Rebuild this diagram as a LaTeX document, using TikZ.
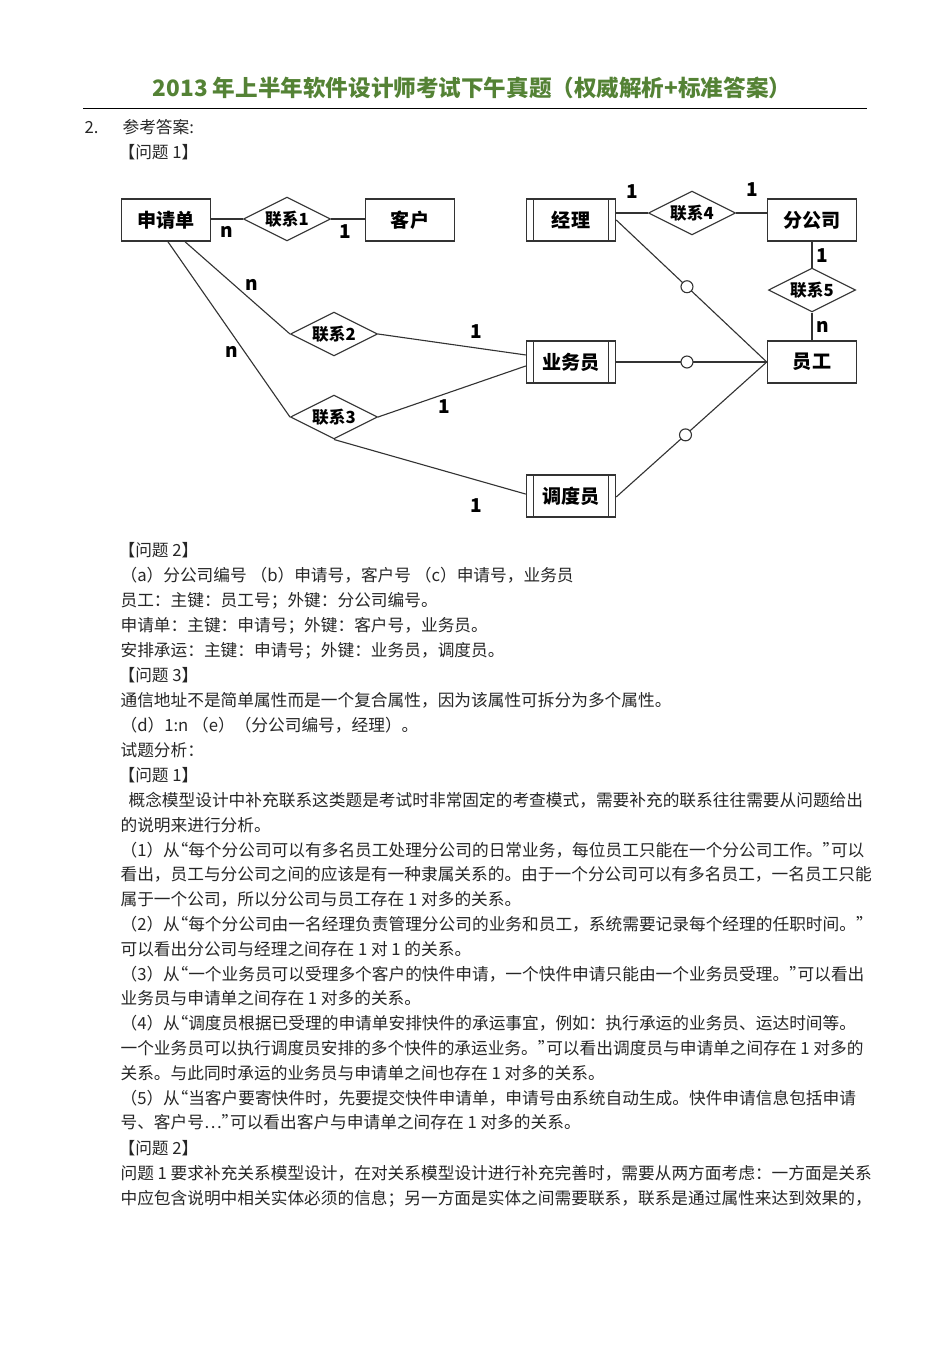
\documentclass[tikz,border=0pt]{standalone}
\usepackage{fontspec}
\setmainfont{Noto Sans CJK SC}
\usetikzlibrary{shapes.geometric}
\definecolor{titlegreen}{RGB}{84,130,53}
% 半角宽度的引号
\newcommand\openq{\makebox[0.5em][r]{“}}
\newcommand\closeq{\makebox[0.5em][l]{”}}
\tikzset{
  entity/.style={draw=black!80, line width=0.9bp, minimum width=55.8bp, minimum height=26.3bp,
    inner sep=0pt, font=\fontsize{12}{12}\selectfont\bfseries},
  weakentity/.style={entity, path picture={
      \draw[black!80, line width=0.8bp] ([xshift=4.4bp]path picture bounding box.north west) -- ([xshift=4.4bp]path picture bounding box.south west);
      \draw[black!80, line width=0.8bp] ([xshift=-4.4bp]path picture bounding box.north east) -- ([xshift=-4.4bp]path picture bounding box.south east);}},
  rel/.style={diamond, aspect=2, draw=black!80, line width=0.7bp, minimum width=54.5bp, minimum height=27.5bp,
    inner sep=0pt, font=\fontsize{10.5}{10.5}\selectfont\bfseries},
  card/.style={inner sep=0pt, font=\fontsize{12}{12}\selectfont\bfseries},
  hole/.style={circle, draw=black!80, fill=white, line width=0.7bp, minimum size=7.5bp, inner sep=0pt},
  body/.style={anchor=base west, inner sep=0pt, text=black!85, font=\fontsize{10.5}{12}\selectfont}
}
\begin{document}
\begin{tikzpicture}[x=0.6266bp, y=-0.6266bp, line width=0.7bp]
  \useasboundingbox (0,0) rectangle (950,1345);

  % 标题
  \node[text=titlegreen, font=\fontsize{14.2}{14.2}\selectfont\bfseries] (title) at (472,88)
    {2013 年上半年软件设计师考试下午真题（权威解析+标准答案）};
  \draw[line width=0.6bp] (83,108) -- (867,108);
  \node[body] (num) at (84,133) {2.};
  \node[body] (ans) at (122,133) {参考答案:};
  \node[body] (q1) at (118,158) {【问题 1】};

  % 实体
  \node[entity] (sqd) at (166,220) {申请单};
  \node[entity] (kehu) at (410,220) {客户};
  \node[weakentity] (jingli) at (571,220) {经理};
  \node[entity] (fgs) at (812,220) {分公司};
  \node[weakentity] (ywy) at (571,362) {业务员};
  \node[entity] (yg) at (812,362) {员工};
  \node[weakentity] (ddy) at (571,496) {调度员};

  % 联系
  \node[rel] (r1) at (287,219) {联系1};
  \node[rel] (r2) at (334,334) {联系2};
  \node[rel] (r3) at (334,417) {联系3};
  \node[rel] (r4) at (692,213) {联系4};
  \node[rel] (r5) at (812,290) {联系5};

  % 连线
  \draw[black!80] (sqd.east |- r1.west) -- (r1.west);
  \draw[black!80] (r1.east) -- (kehu.west |- r1.east);
  \draw[black!80] (jingli.east |- r4.west) -- (r4.west);
  \draw[black!80] (r4.east) -- (fgs.west |- r4.east);
  \draw[black!80] (fgs.south) -- (r5.north);
  \draw[black!80] (r5.south) -- (yg.north);
  \draw[black!80] ([xshift=11.9bp]sqd.south) -- (r2.west);
  \draw[black!80] ([xshift=1.2bp]sqd.south) -- (r3.west);
  \draw[black!80] (r2.east) -- ([yshift=4.4bp]ywy.west);
  \draw[black!80] (r3.east) -- ([yshift=-2.5bp]ywy.west);
  \draw[black!80] (r3.south) -- ([yshift=1.2bp]ddy.west);

  % 员工的三个子类
  \draw[black!80] (jingli.east) -- node[hole, pos=0.47] (h1) {} (yg.west);
  \draw[black!80] (ywy.east) -- node[hole, pos=0.47] (h2) {} (yg.west);
  \draw[black!80] ([yshift=-0.6bp]ddy.east) -- node[hole, pos=0.46] (h3) {} (yg.west);

  % 基数
  \node[card] (c1) at (227,232) {n};
  \node[card] (c2) at (345,232) {1};
  \node[card] (c3) at (252,285) {n};
  \node[card] (c4) at (232,352) {n};
  \node[card] (c5) at (476,332) {1};
  \node[card] (c6) at (444,407) {1};
  \node[card] (c7) at (476,506) {1};
  \node[card] (c8) at (632,192) {1};
  \node[card] (c9) at (752,190) {1};
  \node[card] (c10) at (822,256) {1};
  \node[card] (c11) at (823,327) {n};

  % 正文
  \node[body] (t0) at (118,556) {【问题 2】};
  \node[body] (t1) at (120,581) {（a）分公司编号 （b）申请号，客户号 （c）申请号，业务员};
  \node[body] (t2) at (120,606) {员工：主键：员工号；外键：分公司编号。};
  \node[body] (t3) at (120,631) {申请单：主键：申请号；外键：客户号，业务员。};
  \node[body] (t4) at (120,656) {安排承运：主键：申请号；外键：业务员，调度员。};
  \node[body] (t5) at (118,681) {【问题 3】};
  \node[body] (t6) at (120,706) {通信地址不是简单属性而是一个复合属性，因为该属性可拆分为多个属性。};
  \node[body] (t7) at (120,731) {（d）1:n （e）（分公司编号，经理）。};
  \node[body] (t8) at (120,756) {试题分析：};
  \node[body] (t9) at (118,781) {【问题 1】};
  \node[body] (t10) at (128,806) {概念模型设计中补充联系这类题是考试时非常固定的考查模式，需要补充的联系往往需要从问题给出};
  \node[body] (t11) at (120,831) {的说明来进行分析。};
  \node[body] (t12) at (120,856) {（1）从\openq 每个分公司可以有多名员工处理分公司的日常业务，每位员工只能在一个分公司工作。\closeq 可以};
  \node[body] (t13) at (120,880) {看出，员工与分公司之间的应该是有一种隶属关系的。由于一个分公司可以有多名员工，一名员工只能};
  \node[body] (t14) at (120,905) {属于一个公司，所以分公司与员工存在 1 对多的关系。};
  \node[body] (t15) at (120,930) {（2）从\openq 每个分公司由一名经理负责管理分公司的业务和员工，系统需要记录每个经理的任职时间。\closeq};
  \node[body] (t16) at (120,955) {可以看出分公司与经理之间存在 1 对 1 的关系。};
  \node[body] (t17) at (120,980) {（3）从\openq 一个业务员可以受理多个客户的快件申请，一个快件申请只能由一个业务员受理。\closeq 可以看出};
  \node[body] (t18) at (120,1004) {业务员与申请单之间存在 1 对多的关系。};
  \node[body] (t19) at (120,1029) {（4）从\openq 调度员根据已受理的申请单安排快件的承运事宜，例如：执行承运的业务员、运达时间等。};
  \node[body] (t20) at (120,1054) {一个业务员可以执行调度员安排的多个快件的承运业务。\closeq 可以看出调度员与申请单之间存在 1 对多的};
  \node[body] (t21) at (120,1079) {关系。与此同时承运的业务员与申请单之间也存在 1 对多的关系。};
  \node[body] (t22) at (120,1104) {（5）从\openq 当客户要寄快件时，先要提交快件申请单，申请号由系统自动生成。快件申请信息包括申请};
  \node[body] (t23) at (120,1128) {号、客户号…\closeq 可以看出客户与申请单之间存在 1 对多的关系。};
  \node[body] (t24) at (118,1154) {【问题 2】};
  \node[body] (t25) at (120,1179) {问题 1 要求补充关系模型设计，在对关系模型设计进行补充完善时，需要从两方面考虑：一方面是关系};
  \node[body] (t26) at (120,1204) {中应包含说明中相关实体必须的信息；另一方面是实体之间需要联系，联系是通过属性来达到效果的，};
\end{tikzpicture}
\end{document}
